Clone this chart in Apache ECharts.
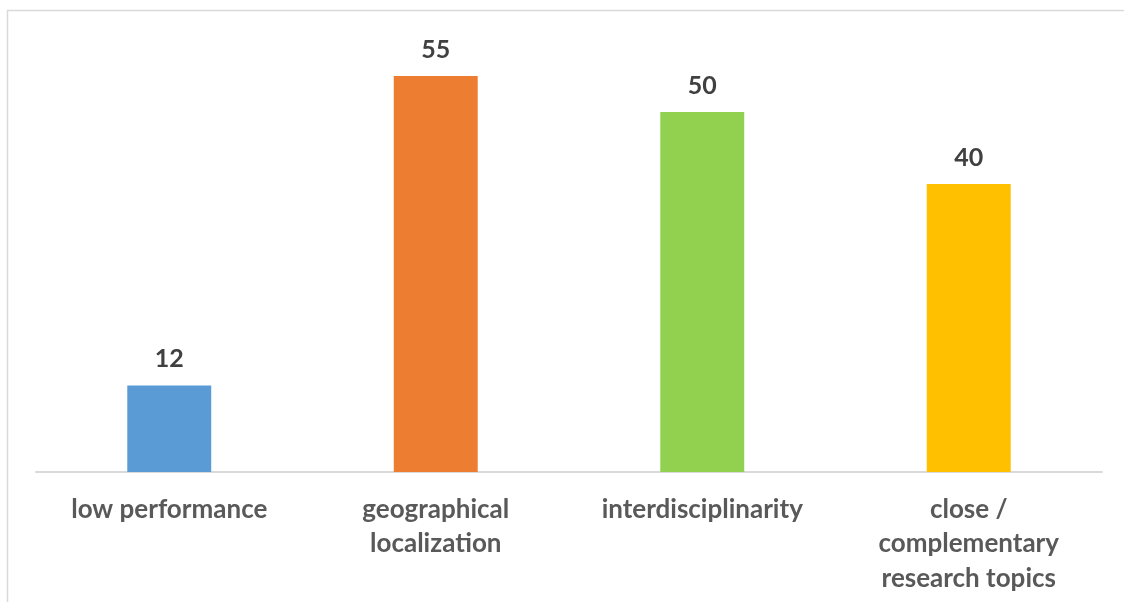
<!DOCTYPE html>
<html>
<head>
<meta charset="utf-8">
<script src="https://cdn.jsdelivr.net/npm/echarts@6/dist/echarts.min.js"></script>
<style>
html,body{margin:0;padding:0;background:#fff;}
#c{width:1124px;height:602px;}
</style>
</head>
<body>
<div id="c"></div>
<script>
const categories = ["low performance", "geographical\nlocalization", "interdisciplinarity", "close /\ncomplementary\nresearch topics"];
const values = [12, 55, 50, 40];
const barColors = ["#5B9BD5", "#ED7D31", "#92D050", "#FFC000"];

const chart = echarts.init(document.getElementById('c'));
chart.setOption({
  animation: false,
  backgroundColor: '#fff',
  graphic: [{
    type: 'rect',
    shape: { x: 7.5, y: 10.5, width: 1140, height: 620 },
    style: { fill: 'none', stroke: '#D9D9D9', lineWidth: 1.5 },
    silent: true
  }],
  grid: { left: 36, right: 22, top: 40, bottom: 130 },
  xAxis: {
    type: 'category',
    data: categories,
    axisLine: { lineStyle: { color: '#D9D9D9', width: 2 } },
    axisTick: { show: false },
    axisLabel: {
      interval: 0,
      color: '#595959',
      fontFamily: 'Lato',
      fontWeight: 'bold',
      fontSize: 26,
      lineHeight: 34.5,
      margin: 20
    }
  },
  yAxis: {
    type: 'value',
    min: 0,
    max: 60,
    show: false,
    splitLine: { show: false }
  },
  series: [{
    type: 'bar',
    data: values.map((v, i) => ({ value: v, itemStyle: { color: barColors[i] } })),
    barWidth: '31.5%',
    label: {
      show: true,
      position: 'top',
      distance: 14,
      color: '#404040',
      fontFamily: 'Lato',
      fontWeight: 'bold',
      fontSize: 25
    }
  }]
});
</script>
</body>
</html>
